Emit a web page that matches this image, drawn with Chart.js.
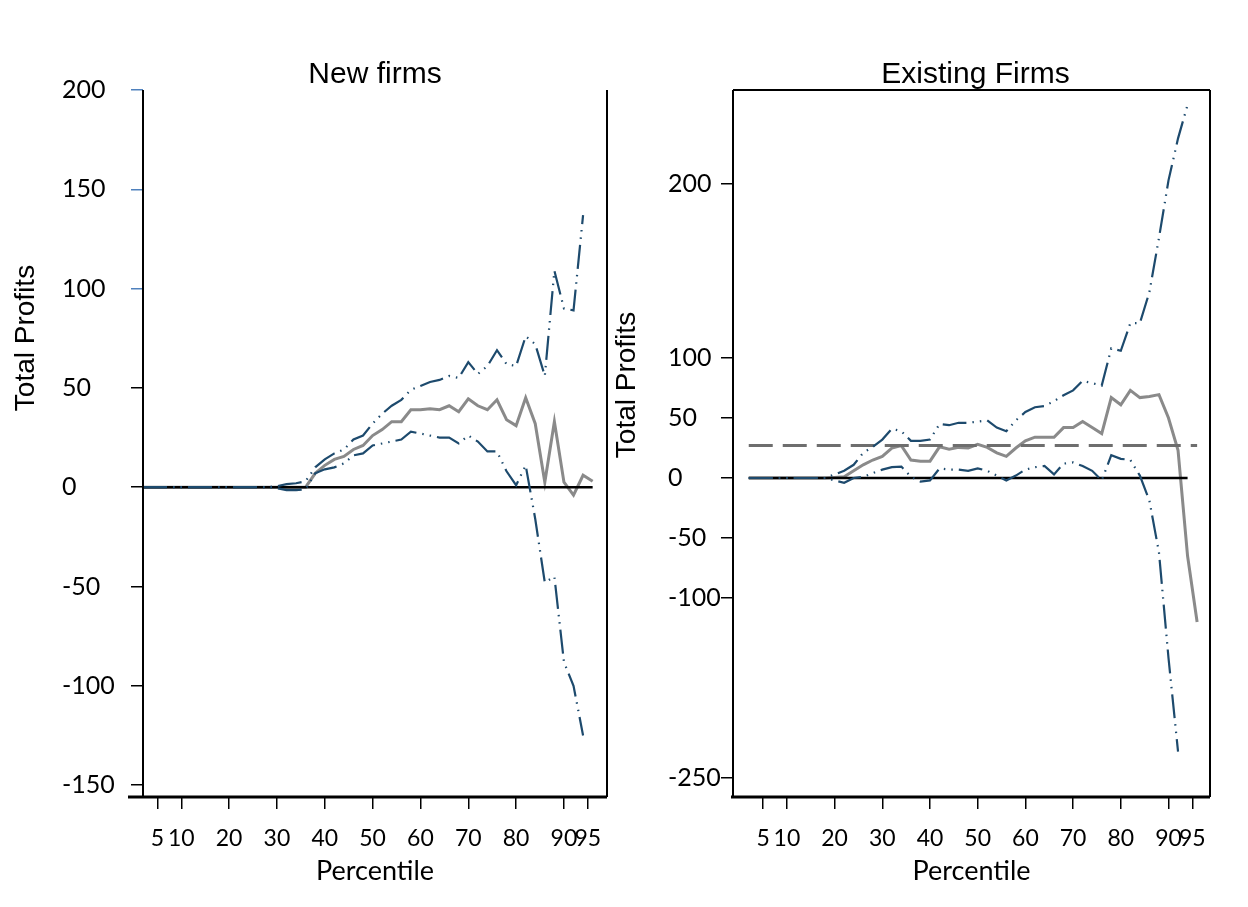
<!DOCTYPE html>
<html>
<head>
<meta charset="utf-8">
<script src="https://cdn.jsdelivr.net/npm/chart.js@4.4.1/dist/chart.umd.min.js"></script>
<style>
  body { margin: 0; background: #fff; }
  #wrap { position: relative; width: 1248px; height: 907px; }
  canvas { position: absolute; top: 0; }
</style>
</head>
<body>
<div id="wrap">
  <canvas id="newFirms" width="612" height="907" style="left:0"></canvas>
  <canvas id="existingFirms" width="636" height="907" style="left:612px"></canvas>
</div>
<script>
// percentiles on the x axis
const percentiles = [2,4,6,8,10,12,14,16,18,20,22,24,26,28,30,32,34,36,38,40,42,44,46,48,
                     50,52,54,56,58,60,62,64,66,68,70,72,74,76,78,80,82,84,86,88,90,92,94,96];
const xTicks = [5,10,20,30,40,50,60,70,80,90,95];

// New firms
const newTicks = [-150,-100,-50,0,50,100,150,200];
const newMean  = [0,0,0,0,0,0,0,0,0,0,0,0,0,0,0,0,0,0,
                  7,11,14,15.5,19,21,26,29,33,33,39,39,39.5,39,41,38,44.5,41,39,44,34,31,45,32,2.5,33,2.5,-4,6,3];
const newUpper = [0,0,0,0,0,0,0,0,0,0,0,0,0,0,
                  0.5,1.5,2,3,10,14,17,19,24,26,32,37,41,44,49,51,53,54,56,55,63,57,61,69,62,61,76,72,56,109,90,89,137,null];
const newLower = [0,0,0,0,0,0,0,0,0,0,0,0,0,0,
                  -0.5,-1.5,-1.5,-1,7,9,10,12,16,17,21,22,23,24,28,27,26,25,25,22,26,23,18,18,8,1,11,-16,-48,-45,-88,-100,-125,null];
const newZeroX = [2, 96];
const newZeroY = [0, 0];

// Existing firms
const oldTickValues = [-250,-100,-50,0,50,100,245];
const oldTickLabels = ['-250','-100','-50','0','50','100','200'];
const oldMean  = [0,0,0,0,0,0,0,0,0,
                  0.5,1,6,11,15,18,25,27,15,14,14,26,24,25.5,25,28,25.5,21,18,25,31,34,34,34,42,42,47,42,37,67,61,73,67,68,69.5,50,23,-65,-120];
const oldUpper = [0,0,0,0,0,0,0,0,0,
                  3,6,11,21,26,32,41,39,31,31,32,45,44,46,46,47,48,42,39,48,55,59,60,64,69,73,81,79,77,108,106,129,129,155,200,248,283,311,null];
const oldLower = [0,0,0,0,0,0,0,0,0,
                  -2,-4,0,1,4,7,9,9.5,1,-3,-2,8,7,7,6,8,6,2,-2,2,7,9,10,3,12,13,10,6,-2,19,16,15,2,-19,-62,-150,-228,null,null];
const oldZeroX = [2, 94];
const oldZeroY = [0, 0];
const oldMeanLineX = [2, 96];
const oldMeanLineY = [27, 27];

const BLUE = '#1d4a6d';
const GREY = '#8a8a8a';

function pts(xs, ys) {
  return xs.map((x, i) => ({ x: x, y: ys[i] }));
}

const decor = {
  id: 'decor',
  afterDraw(chart, args, o) {
    const { ctx, chartArea: a } = chart;
    ctx.save();
    ctx.strokeStyle = '#000';
    ctx.lineWidth = 2;
    ctx.beginPath();
    ctx.moveTo(a.left, a.top); ctx.lineTo(a.left, a.bottom);
    ctx.moveTo(a.right, a.top); ctx.lineTo(a.right, a.bottom);
    if (o.top) { ctx.moveTo(a.left, a.top); ctx.lineTo(a.right, a.top); }
    ctx.stroke();
    ctx.lineWidth = 3;
    ctx.beginPath();
    ctx.moveTo(a.left - o.extend, a.bottom); ctx.lineTo(a.right, a.bottom);
    ctx.stroke();

    ctx.fillStyle = '#000';
    ctx.textAlign = 'center';
    ctx.textBaseline = 'middle';
    ctx.font = '30px "Liberation Sans", Arial, sans-serif';
    ctx.fillText(o.title, (a.left + a.right) / 2 + o.titleDx, o.titleY);
    ctx.translate(o.yTitleX, o.yTitleY);
    ctx.rotate(-Math.PI / 2);
    ctx.font = '28px "Liberation Sans", Arial, sans-serif';
    ctx.fillText('Total Profits', 0, 0);
    ctx.restore();
  }
};

function makeChart(id, cfg) {
  return new Chart(document.getElementById(id), {
    type: 'line',
    data: { datasets: cfg.datasets },
    plugins: [decor],
    options: {
      responsive: false,
      animation: false,
      layout: { padding: { left: cfg.padLeft, right: cfg.padRight, top: 90, bottom: 0 } },
      plugins: {
        legend: { display: false },
        tooltip: { enabled: false },
        decor: cfg.decor
      },
      elements: { point: { radius: 0 } },
      scales: {
        x: {
          type: 'linear',
          min: cfg.xMin,
          max: cfg.xMax,
          afterFit: s => { s.height = 110; s.paddingLeft = 0; s.paddingRight = 0; },
          afterBuildTicks: s => { s.ticks = xTicks.map(v => ({ value: v })); },
          grid: { drawOnChartArea: false, tickLength: 12, color: '#000', lineWidth: 1.5 },
          border: { display: false },
          ticks: { font: { family: 'Lato', size: 23 }, color: '#000', padding: 16, autoSkip: false, maxRotation: 0,
                   callback: v => String(v) },
          title: { display: true, text: 'Percentile', color: '#000',
                   font: { family: 'Lato', size: 27 }, padding: { top: 0, bottom: 20 } }
        },
        y: {
          min: cfg.yMin,
          max: cfg.yMax,
          afterFit: s => { s.width = cfg.yWidth; },
          afterBuildTicks: s => { s.ticks = cfg.yTicks.map(v => ({ value: v })); },
          grid: { drawOnChartArea: false, tickLength: 12, lineWidth: 1.5, tickColor: cfg.tickColor },
          border: { display: false },
          ticks: { font: { family: 'Lato', size: 25 }, color: '#000', crossAlign: 'far', autoSkip: false,
                   callback: cfg.yLabel }
        }
      }
    }
  });
}

const dashDot = [24, 6, 1.5, 6, 1.5, 6];

makeChart('newFirms', {
  padLeft: 62, padRight: 5, yWidth: 81,
  xMin: 2, xMax: 99, yMin: -156, yMax: 200,
  yTicks: newTicks,
  yLabel: v => String(v),
  tickColor: c => (c.tick && c.tick.value >= 100 ? '#4f81bd' : '#000'),
  decor: { title: 'New firms', titleDx: 0, titleY: 75, yTitleX: 26, yTitleY: 338, top: false, extend: 15 },
  datasets: [
    { data: pts(percentiles, newUpper), borderColor: BLUE, borderWidth: 2.2, borderDash: dashDot, spanGaps: false },
    { data: pts(percentiles, newLower), borderColor: BLUE, borderWidth: 2.2, borderDash: dashDot, spanGaps: false },
    { data: pts(newZeroX, newZeroY), borderColor: '#000', borderWidth: 2.5 },
    { data: pts(percentiles, newMean), borderColor: GREY, borderWidth: 3 }
  ]
});

makeChart('existingFirms', {
  padLeft: 56, padRight: 38, yWidth: 65,
  xMin: -1.3, xMax: 98.7, yMin: -265.8, yMax: 323.3,
  yTicks: oldTickValues,
  yLabel: v => oldTickLabels[oldTickValues.indexOf(v)],
  tickColor: '#000',
  decor: { title: 'Existing Firms', titleDx: 4, titleY: 75, yTitleX: 15, yTitleY: 385, top: true, extend: 2 },
  datasets: [
    { data: pts(percentiles, oldUpper), borderColor: BLUE, borderWidth: 2.2, borderDash: dashDot, spanGaps: false },
    { data: pts(percentiles, oldLower), borderColor: BLUE, borderWidth: 2.2, borderDash: dashDot, spanGaps: false },
    { data: pts(oldZeroX, oldZeroY), borderColor: '#000', borderWidth: 2.5 },
    { data: pts(oldMeanLineX, oldMeanLineY), borderColor: '#6e6e6e', borderWidth: 3, borderDash: [24, 10] },
    { data: pts(percentiles, oldMean), borderColor: GREY, borderWidth: 3 }
  ]
});
</script>
</body>
</html>
